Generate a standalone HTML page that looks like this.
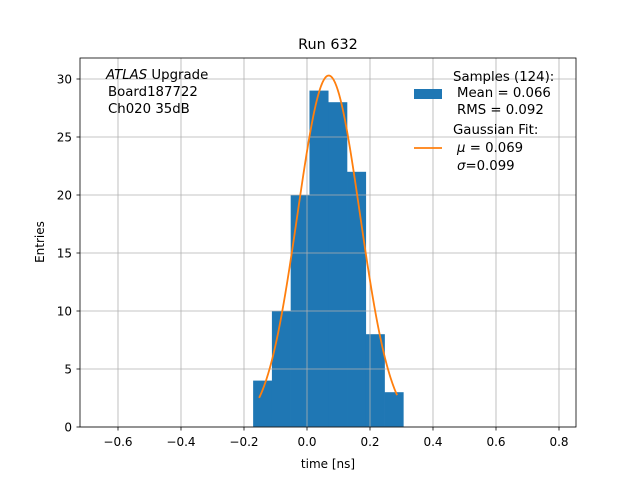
<!DOCTYPE html>
<html><head><meta charset="utf-8"><style>
body{margin:0;background:#fff}
svg{font-family:"DejaVu Sans","Liberation Sans",sans-serif}
</style></head><body>
<svg id="c" width="640" height="480" xmlns="http://www.w3.org/2000/svg">
<rect width="640" height="480" fill="#fff"/>
<text x="328" y="49" font-size="14.4" text-anchor="middle">Run 632</text>
<g id="bars"></g><g id="grid"></g><g id="curve"></g><g id="ticks"></g>
<rect x="80" y="58" width="496" height="369" fill="none" stroke="#000" stroke-width="0.8"/>
<text x="328" y="468" font-size="12" text-anchor="middle">time [ns]</text>
<text x="44" y="242" font-size="12" text-anchor="middle" transform="rotate(-90 44 242)">Entries</text>
<g font-size="13.3">
<text x="106" y="79"><tspan font-style="italic">ATLAS</tspan> Upgrade</text>
<text x="108" y="96">Board187722</text>
<text x="108" y="113">Ch020 35dB</text>
</g>
<g font-size="13.3">
<text x="453" y="81">Samples (124):</text>
<rect x="414" y="89" width="28" height="10" fill="#1f77b4"/>
<text x="457" y="97">Mean = 0.066</text>
<text x="457" y="114">RMS = 0.092</text>
<text x="453" y="134">Gaussian Fit:</text>
<line x1="414" y1="148" x2="442" y2="148" stroke="#ff7f0e" stroke-width="1.8"/>
<text x="457" y="152"><tspan font-style="italic">μ</tspan> = 0.069</text>
<text x="457" y="170"><tspan font-style="italic">σ</tspan>=0.099</text>
</g>
</svg>
<script>
const binEdgeStart=-0.171, binWidth=0.0596;
const counts=[4,10,20,29,28,22,8,3];
const xTicks=[-0.6,-0.4,-0.2,0.0,0.2,0.4,0.6,0.8];
const yTicks=[0,5,10,15,20,25,30];
const fitAmp=30.3, fitMu=0.069, fitSigma=0.099, fitRange=[-0.152,0.286];
const NS="http://www.w3.org/2000/svg";
const X=v=>307+v*315, Y=v=>427-v*11.6;
function mk(t,a,p){const e=document.createElementNS(NS,t);for(const k in a)e.setAttribute(k,a[k]);p.appendChild(e);return e;}
const bars=document.getElementById('bars'),grid=document.getElementById('grid'),ticks=document.getElementById('ticks'),curve=document.getElementById('curve');
counts.forEach((c,i)=>{const x0=X(binEdgeStart+i*binWidth),x1=X(binEdgeStart+(i+1)*binWidth);
const r=mk('rect',{x:x0,y:Y(c),width:x1-x0+0.3,height:Y(0)-Y(c),fill:'#1f77b4'},bars);

});
xTicks.forEach(t=>{const x=X(t);
const g=mk('line',{x1:x,x2:x,y1:58,y2:427,stroke:'#b0b0b0','stroke-width':0.8},grid);


mk('line',{x1:x,x2:x,y1:427,y2:430.5,stroke:'#000','stroke-width':0.8},ticks);
const l=mk('text',{x:x,y:446,'font-size':12,'text-anchor':'middle'},ticks);l.textContent=(t<0?'−':'')+Math.abs(t).toFixed(1);

});
yTicks.forEach(t=>{const y=Y(t);
const g=mk('line',{x1:80,x2:576,y1:y,y2:y,stroke:'#b0b0b0','stroke-width':0.8},grid);


mk('line',{x1:76.5,x2:80,y1:y,y2:y,stroke:'#000','stroke-width':0.8},ticks);
const l=mk('text',{x:72,y:y+4.5,'font-size':12,'text-anchor':'end'},ticks);l.textContent=t;

});
let d='';for(let i=0;i<=200;i++){const v=fitRange[0]+(fitRange[1]-fitRange[0])*i/200;const f=fitAmp*Math.exp(-((v-fitMu)**2)/(2*fitSigma*fitSigma));d+=(i?'L':'M')+X(v).toFixed(2)+' '+Y(f).toFixed(2);}
const p=mk('path',{d:d,fill:'none',stroke:'#ff7f0e','stroke-width':1.8},curve);


</script>
</body></html>
